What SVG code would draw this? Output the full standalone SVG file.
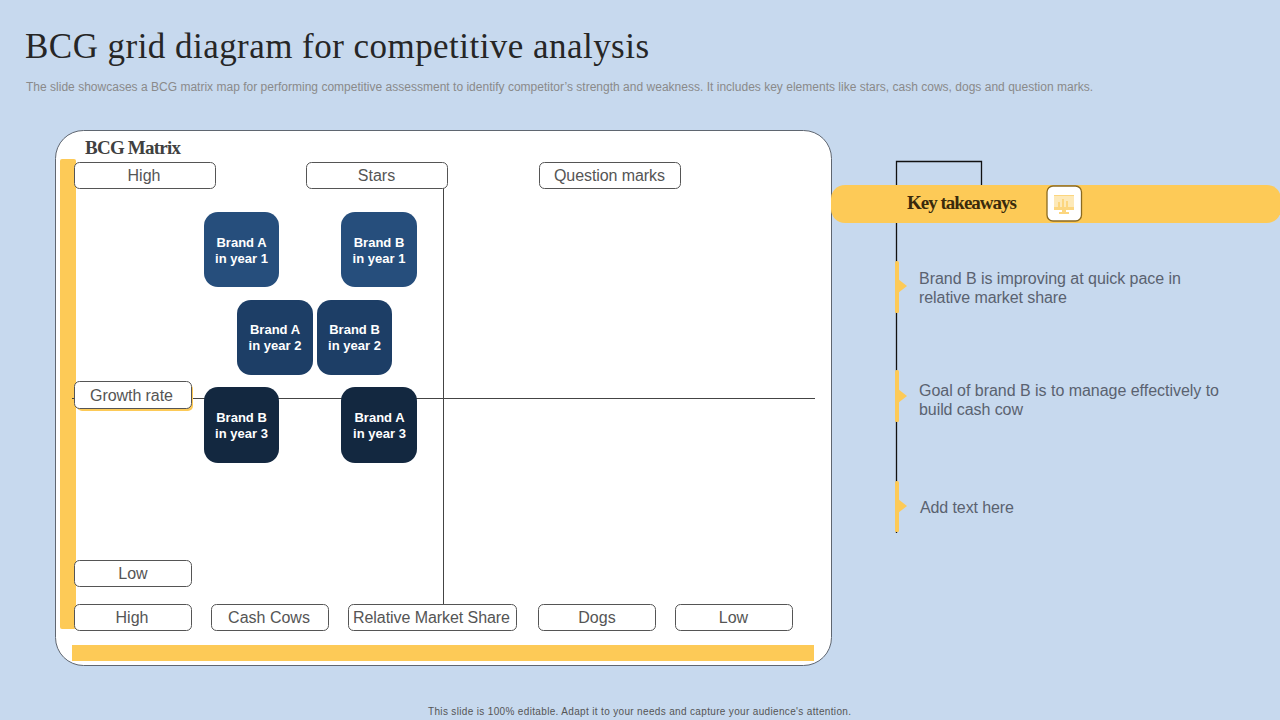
<svg xmlns="http://www.w3.org/2000/svg" width="1280" height="720" viewBox="0 0 1280 720">
<style>
text{font-family:"Liberation Sans",Arial,sans-serif}
.ser{font-family:"Liberation Serif","Times New Roman",serif;font-weight:bold}
.lab rect{fill:#fff;stroke:#555;stroke-width:1}
.lab text{font-size:16px;fill:#555;text-anchor:middle}
.b text{font-size:13px;font-weight:bold;fill:#fff;text-anchor:middle}
.t{font-size:16px;fill:#5a6270}
.y{fill:#fdca57}
.ln{stroke:#444;stroke-width:1;fill:none}
.bk{stroke:#111;stroke-width:1.3;fill:none}
</style>
<rect width="1280" height="720" fill="#c7d9ee"/>
<text id="title" x="25" y="58" font-size="35" textLength="624" lengthAdjust="spacing" fill="#262626" style="font-family:'Liberation Serif',serif">BCG grid diagram for competitive analysis</text>
<text id="subtitle" x="26" y="91" font-size="12" fill="#8a8a8a" textLength="1067" lengthAdjust="spacing">The slide showcases a BCG matrix map for performing competitive assessment to identify competitor’s strength and weakness. It includes key elements like stars, cash cows, dogs and question marks.</text>
<g id="panel">
<rect x="55.500" y="130.500" width="776" height="535" rx="28" fill="#fff" stroke="#5f6670"/>
<rect class="y" x="60" y="159" width="16" height="470" rx="2"/>
<rect class="y" x="72" y="645" width="742" height="16"/>
<text class="ser" x="85" y="154" font-size="19" textLength="96" lengthAdjust="spacing" fill="#404040">BCG Matrix</text>
</g>
<g id="connectors">
<path class="ln" d="M443.500 188V604"/>
<path class="ln" d="M72 398.500H815"/>
<path class="bk" d="M896.500 533V161.500H981.500V190"/>
</g>
<g id="high-top" class="lab"><rect x="74.500" y="162.500" width="141" height="26" rx="5"/><text x="144" y="181">High</text></g>
<g id="stars" class="lab"><rect x="306.500" y="162.500" width="141" height="26" rx="5"/><text x="376.500" y="181">Stars</text></g>
<g id="question-marks" class="lab"><rect x="539.500" y="162.500" width="141" height="26" rx="5"/><text x="609.500" y="181" textLength="111" lengthAdjust="spacing">Question marks</text></g>
<g id="growth-rate" class="lab"><rect x="77" y="384" width="116" height="27" rx="5" style="fill:#fdca57;stroke:none"/><rect x="74.500" y="381.500" width="117" height="27" rx="5"/><text x="131.500" y="401" textLength="83" lengthAdjust="spacing">Growth rate</text></g>
<g id="low-left" class="lab"><rect x="74.500" y="560.500" width="117" height="26" rx="5"/><text x="133" y="579">Low</text></g>
<g id="high-bottom" class="lab"><rect x="74.500" y="604.500" width="117" height="26" rx="5"/><text x="132" y="623">High</text></g>
<g id="cash-cows" class="lab"><rect x="211.500" y="604.500" width="117" height="26" rx="5"/><text x="269" y="623">Cash Cows</text></g>
<g id="relative-market-share" class="lab"><rect x="348.500" y="604.500" width="168" height="26" rx="5"/><text x="431.500" y="623" textLength="157" lengthAdjust="spacing">Relative Market Share</text></g>
<g id="dogs" class="lab"><rect x="538.500" y="604.500" width="117" height="26" rx="5"/><text x="597" y="623">Dogs</text></g>
<g id="low-bottom" class="lab"><rect x="675.500" y="604.500" width="117" height="26" rx="5"/><text x="733.500" y="623">Low</text></g>
<g id="brand-a-1" class="b"><rect x="204" y="212" width="75" height="75" rx="14" fill="#264e7c"/><text x="241.500" y="247">Brand A</text><text x="241.500" y="263">in year 1</text></g>
<g id="brand-b-1" class="b"><rect x="341" y="212" width="76" height="75" rx="14" fill="#264e7c"/><text x="379" y="247">Brand B</text><text x="379" y="263">in year 1</text></g>
<g id="brand-a-2" class="b"><rect x="237" y="300" width="76" height="75" rx="14" fill="#1d3e66"/><text x="275" y="334">Brand A</text><text x="275" y="350">in year 2</text></g>
<g id="brand-b-2" class="b"><rect x="317" y="300" width="75" height="75" rx="14" fill="#1d3e66"/><text x="354.500" y="334">Brand B</text><text x="354.500" y="350">in year 2</text></g>
<g id="brand-b-3" class="b"><rect x="204" y="387" width="75" height="76" rx="14" fill="#132840"/><text x="241.500" y="422">Brand B</text><text x="241.500" y="438">in year 3</text></g>
<g id="brand-a-3" class="b"><rect x="341" y="387" width="76" height="76" rx="14" fill="#132840"/><text x="379.500" y="422">Brand A</text><text x="379.500" y="438">in year 3</text></g>
<g id="key-takeaways">
<rect class="y" x="831" y="185" width="450" height="38" rx="14"/>
<text class="ser" x="907" y="209" font-size="19" textLength="110" lengthAdjust="spacing" fill="#3a2a0c">Key takeaways</text>
<rect x="1047" y="186" width="34.500" height="35" rx="6" fill="#fff" stroke="#8a6a20" stroke-width="1.300"/>
<path fill="#fde9b8" d="M1054 195H1074V209H1054Z"/>
<path fill="#fcd67f" d="M1054 195H1074V196H1054ZM1054 207H1074V210H1054ZM1062 210H1066V212H1069V214H1059V212H1062ZM1058 207V202H1060V207ZM1062 207V199H1064V207ZM1066 207V201H1068V207Z"/>
</g>
<g id="takeaway-1">
<rect class="y" x="895" y="261" width="4" height="52" rx="1.500"/><path class="y" d="M898 279L907 286L898 293Z"/>
<text class="t" x="919" y="284" textLength="262" lengthAdjust="spacing">Brand B is improving at quick pace in</text>
<text class="t" x="919" y="303" textLength="148" lengthAdjust="spacing">relative market share</text>
</g>
<g id="takeaway-2">
<rect class="y" x="895" y="370" width="4" height="52" rx="1.500"/><path class="y" d="M898 389L907 396L898 403Z"/>
<text class="t" x="919" y="396" textLength="300" lengthAdjust="spacing">Goal of brand B is to manage effectively to</text>
<text class="t" x="919" y="415" textLength="104" lengthAdjust="spacing">build cash cow</text>
</g>
<g id="takeaway-3">
<rect class="y" x="895" y="481" width="4" height="51" rx="1.500"/><path class="y" d="M898 499L907 506L898 513Z"/>
<text class="t" x="920" y="513" textLength="94" lengthAdjust="spacing">Add text here</text>
</g>
<text id="footer" x="428" y="715" font-size="10" fill="#555" textLength="423" lengthAdjust="spacing">This slide is 100% editable.  Adapt it to your needs and capture your audience's attention.</text>
</svg>
